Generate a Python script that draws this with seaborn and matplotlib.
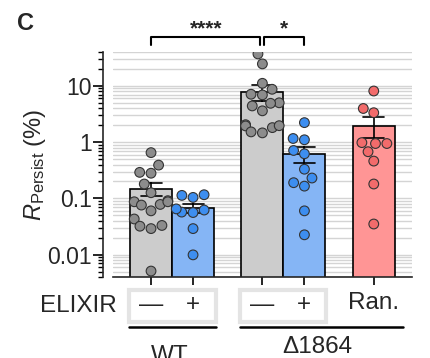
import numpy as np
import pandas as pd
import matplotlib
matplotlib.use("Agg")
import matplotlib.pyplot as plt
import matplotlib.transforms as mtransforms
from matplotlib.patches import Rectangle
import seaborn as sns

sns.set_style("ticks")
plt.rcParams["font.family"] = ["Liberation Sans", "DejaVu Sans"]
plt.rcParams["mathtext.fontset"] = "custom"
plt.rcParams["mathtext.rm"] = "Liberation Sans"
plt.rcParams["mathtext.it"] = "Liberation Sans:italic"

# data (R_persist, %)
groups = ["WT -", "WT +", "d1864 -", "d1864 +", "Ran."]
positions = [0, 1, 2.65, 3.65, 5.3]
wt_minus = [0.65, 0.39, 0.29, 0.28, 0.18, 0.126, 0.091, 0.087, 0.076, 0.078,
            0.087, 0.060, 0.043, 0.033, 0.029, 0.032, 0.0051]
wt_plus = [0.113, 0.104, 0.116, 0.057, 0.065, 0.056, 0.062, 0.029, 0.0099]
d_minus = [37, 24.6, 11.1, 8.7, 6.9, 7.1, 4.4, 5.0, 4.9, 3.6, 2.04, 1.81,
           1.96, 1.94, 1.52, 1.46]
d_plus = [2.22, 1.10, 1.16, 0.71, 0.62, 0.33, 0.23, 0.165, 0.19, 0.060, 0.0225]
ran = [8.1, 3.96, 3.33, 0.944, 0.98, 0.944, 0.675, 0.46, 0.18, 0.035]

bar_colors = ["#cccccc", "#85b5f5", "#cccccc", "#85b5f5", "#ff9595"]
dot_colors = ["#8c8c8c", "#3d8ef0", "#8c8c8c", "#3d8ef0", "#f26b6b"]

rows = []
for g, p, vals in zip(groups, positions, [wt_minus, wt_plus, d_minus, d_plus, ran]):
    for v in vals:
        rows.append({"group": g, "pos": p, "val": v})
df = pd.DataFrame(rows)

fig = plt.figure(figsize=(4.3, 3.58), dpi=100)
ax = fig.add_axes([113 / 430, 1 - 277 / 358, 299 / 430, 225 / 358])

# bars: arithmetic mean +- SEM (computed on linear scale)
sns.barplot(data=df, x="pos", y="val", hue="group", hue_order=groups,
            palette=bar_colors, saturation=1, native_scale=True, width=1.0,
            errorbar="se", capsize=0.5,
            err_kws={"color": "black", "linewidth": 1.2},
            edgecolor="black", linewidth=1.2, legend=False, ax=ax)
ax.set_yscale("log")
ax.set_ylim(0.004, 40)
sns.swarmplot(data=df, x="pos", y="val", hue="group", hue_order=groups,
              palette=dot_colors, native_scale=True, size=7,
              edgecolor="#333333", linewidth=0.8, legend=False, ax=ax, zorder=5)

ax.set_xlim(-0.905, 6.21)
ax.set_ylim(0.004, 40)
ax.set_yticks([0.01, 0.1, 1, 10], labels=["0.01", "0.1", "1", "10"])
ax.set_xticks(positions, labels=[""] * 5)
ax.yaxis.grid(True, which="both", color="#d4d4d4", linewidth=1)
ax.set_axisbelow(True)
ax.tick_params(axis="y", which="major", length=7, width=1.2, labelsize=16.5,
               color="black", pad=1)
ax.tick_params(axis="y", which="minor", length=3.5, width=1.0, color="black")
ax.tick_params(axis="x", length=6, width=1.2, color="black")
ax.spines["left"].set_position(("outward", 7))
ax.spines["left"].set_linewidth(1.2)
ax.spines["bottom"].set_linewidth(1.2)
sns.despine(ax=ax)
ax.set_xlabel("")
ax.set_ylabel(r"$\it{R}_{\rm Persist}$ (%)", fontsize=17, labelpad=0)

trans = mtransforms.blended_transform_factory(ax.transData, ax.transAxes)

# significance brackets
def bracket(x1, x2, label):
    ax.plot([x1, x1, x2, x2], [1.031, 1.067, 1.067, 1.031], color="black",
            lw=1.5, transform=trans, clip_on=False)
    ax.text((x1 + x2) / 2, 1.06, label, ha="center", va="bottom",
            fontsize=15, fontweight="bold", transform=trans)

bracket(0, 2.6, "****")
bracket(2.7, 3.65, "*")

# condition labels under the axis
for x0, x1 in [(-0.524, 1.548), (2.12, 4.17)]:
    ax.add_patch(Rectangle((x0, -0.2), x1 - x0, 0.142, transform=trans,
                           fill=False, edgecolor="#e4e4e4", lw=3, clip_on=False))
for x0, x1 in [(-0.524, 1.548), (2.12, 6.0)]:
    ax.plot([x0, x1], [-0.222, -0.222], color="black", lw=1.8,
            transform=trans, clip_on=False)

for p, s in zip(positions[:4], ["—", "+", "—", "+"]):
    ax.text(p, -0.126, s, ha="center", va="center", fontsize=17.5, transform=trans)
ax.text(positions[4], -0.115, "Ran.", ha="center", va="center", fontsize=17.5, transform=trans)
ax.text(0.45, -0.35, "WT", ha="center", va="center", fontsize=17.5, transform=trans)
ax.text(3.95, -0.31, "Δ1864", ha="center", va="center", fontsize=17.5, transform=trans)
fig.text(117 / 430, 1 - 306 / 358, "ELIXIR", ha="right", va="center", fontsize=17.5)
fig.text(17 / 430, 1 - 23 / 358, "C", ha="left", va="center", fontsize=17, fontweight="bold")

fig.savefig("out.png", dpi=100)
